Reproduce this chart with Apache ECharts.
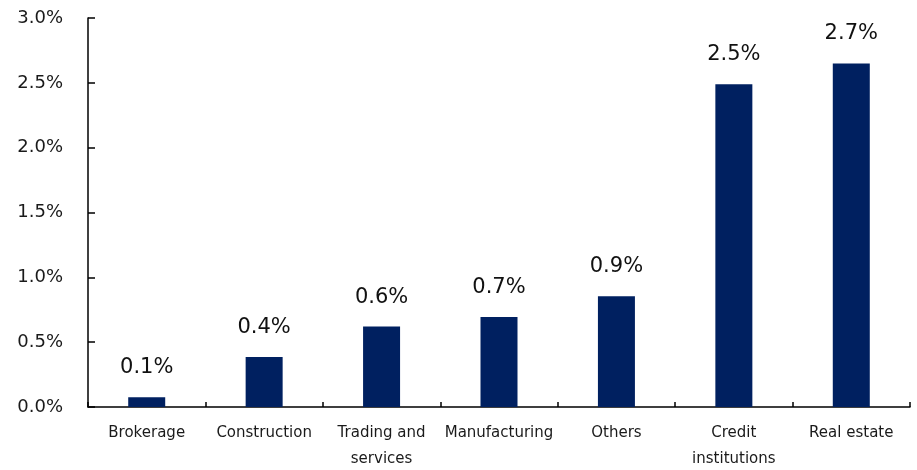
<!DOCTYPE html>
<html>
<head>
<meta charset="utf-8">
<script src="https://cdn.jsdelivr.net/npm/echarts@6/dist/echarts.min.js"></script>
<style>html,body{margin:0;padding:0;background:#fff}#c{width:917px;height:470px}</style>
</head>
<body>
<div id="c"></div>
<script>
var categories = ['Brokerage', 'Construction', 'Trading and\nservices', 'Manufacturing', 'Others', 'Credit\ninstitutions', 'Real estate'];
var values = [0.075, 0.385, 0.62, 0.695, 0.855, 2.49, 2.65];
var valueLabels = ['0.1%', '0.4%', '0.6%', '0.7%', '0.9%', '2.5%', '2.7%'];
var yTicks = [0, 0.5, 1.0, 1.5, 2.0, 2.5, 3.0];

var chart = echarts.init(document.getElementById('c'), null, {renderer: 'canvas'});
chart.setOption({
  animation: false,
  backgroundColor: '#ffffff',
  grid: {left: 88, right: 7, top: 18, bottom: 63, containLabel: false, outerBoundsMode: 'none'},
  xAxis: {
    type: 'category',
    data: categories,
    axisLine: {show: true, lineStyle: {color: '#000', width: 1.5}},
    axisTick: {show: true, inside: true, length: 5, alignWithLabel: false, lineStyle: {color: '#000', width: 1.5}},
    axisLabel: {fontFamily: 'DejaVu Sans', fontSize: 15, color: '#1a1a1a', margin: 13, lineHeight: 26, interval: 0}
  },
  yAxis: {
    type: 'value',
    min: yTicks[0],
    max: yTicks[yTicks.length - 1],
    interval: 0.5,
    splitLine: {show: false},
    axisLine: {show: true, lineStyle: {color: '#000', width: 1.5}},
    axisTick: {show: true, inside: true, length: 7, lineStyle: {color: '#000', width: 1.5}},
    axisLabel: {fontFamily: 'DejaVu Sans', fontSize: 18, color: '#1a1a1a', margin: 25,
      formatter: function (v) { return v.toFixed(1) + '%'; }}
  },
  series: [{
    type: 'bar',
    data: values,
    barWidth: 37,
    itemStyle: {color: '#002060'},
    label: {
      show: true,
      position: 'top',
      distance: 19,
      fontFamily: 'DejaVu Sans',
      fontSize: 21,
      color: '#111',
      formatter: function (p) { return valueLabels[p.dataIndex]; }
    }
  }]
});
</script>
</body>
</html>
